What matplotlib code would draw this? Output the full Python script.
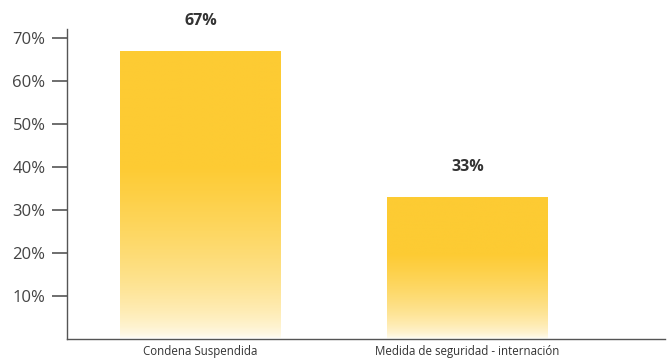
import numpy as np
import matplotlib.pyplot as plt
from matplotlib.colors import LinearSegmentedColormap

categories = ['Condena Suspendida', 'Medida de seguridad - internación']
values = [67, 33]
labels = ['67%', '33%']
yticks = [10, 20, 30, 40, 50, 60, 70]

plt.rcParams['font.family'] = ['Open Sans', 'DejaVu Sans']

fig = plt.figure(figsize=(6.7, 3.58), dpi=100)
ax = fig.add_axes([0.1, 0.053, 0.8925, 0.866])

yellow = '#FDCB33'
cmap = LinearSegmentedColormap.from_list('fade', ['#FFFFFF', yellow])

x = np.arange(len(categories))
bars = ax.bar(x, values, width=0.6, color='none', edgecolor='none')

# vertical gradient inside each bar: solid on top, fading to white at the bottom
t = np.linspace(0, 1, 256)
grad = np.clip(t / 0.6, 0, 1) ** 0.55
grad = grad[:, None]
for b in bars:
    x0, y0, w, h = b.get_x(), b.get_y(), b.get_width(), b.get_height()
    im = ax.imshow(grad, cmap=cmap, vmin=0, vmax=1, origin='lower', aspect='auto',
                   extent=[x0, x0 + w, y0, y0 + h], zorder=2)
    im.set_clip_path(b)

for xi, v, lab in zip(x, values, labels):
    ax.annotate(lab, (xi, v), xytext=(0, 22), textcoords='offset points',
                ha='center', va='center', fontsize=11.5, fontweight='bold', color='#333333',
                annotation_clip=False)

ax.set_xlim(-0.5, 1.74)
ax.set_ylim(0, 72.2)
ax.set_xticks(x)
ax.set_xticklabels(categories, fontsize=8.3, color='#333333')
ax.tick_params(axis='x', length=0, pad=4)
ax.set_yticks(yticks)
ax.set_yticklabels([f'{v}%' for v in yticks], fontsize=12, color='#444444')
ax.tick_params(axis='y', length=10.5, width=1.2, color='#555555', pad=5)

for s in ['top', 'right']:
    ax.spines[s].set_visible(False)
for s in ['left', 'bottom']:
    ax.spines[s].set_color('#555555')
    ax.spines[s].set_linewidth(1)

fig.savefig('out.png', dpi=100)
